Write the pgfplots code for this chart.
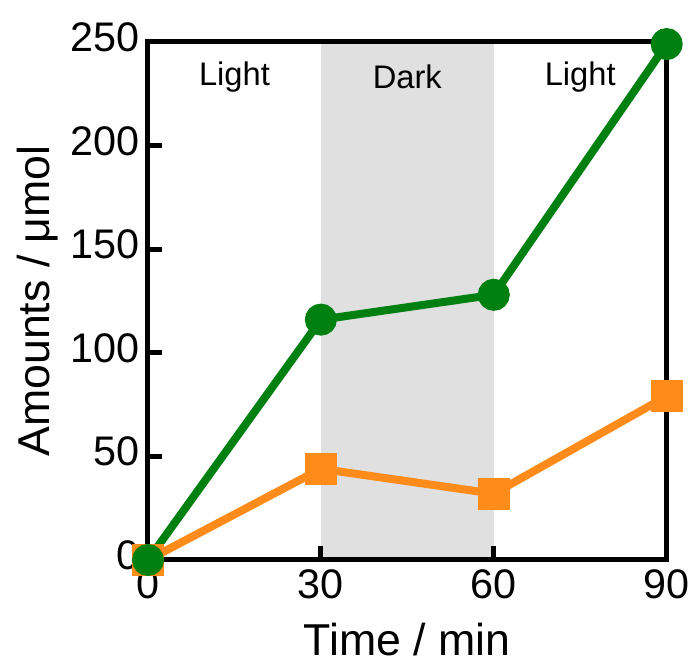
\documentclass[border=0pt]{standalone}
\usepackage{fontspec}
\setmainfont{Liberation Sans}
\usepackage{pgfplots}
\pgfplotsset{compat=1.18}
\definecolor{cgreen}{HTML}{008011}
\definecolor{corange}{HTML}{FF8C1A}
\definecolor{cgray}{HTML}{E0E0E0}
\begin{document}
\begin{tikzpicture}
\begin{axis}[
  width=389pt, height=388.5pt, scale only axis,
  xmin=0, xmax=90, ymin=0, ymax=250,
  xtick={0,30,60,90}, ytick={0,50,100,150,200,250},
  tick align=inside, xtick pos=bottom, ytick pos=left,
  major tick length=10.5pt,
  every tick/.style={line width=3.75pt, black},
  axis line style={line width=3.75pt},
  /pgf/number format/assume math mode=true,
  tick label style={font=\fontsize{31}{31}\selectfont},
  label style={font=\fontsize{33.5}{33.5}\selectfont},
  xlabel={Time / min}, ylabel={Amounts / μmol},
  xlabel style={yshift=-11pt},
  ylabel style={yshift=2pt},
  yticklabel style={xshift=-3pt, yshift=3.5pt},
  xticklabel style={yshift=-4pt},
  clip=false, axis on top,
]
\addplot[fill=cgray, draw=none] coordinates {(30,0) (30,250) (60,250) (60,0)} -- cycle;
\node[font=\fontsize{24.5}{24.5}\selectfont] at (axis cs:15,233) {Light};
\node[font=\fontsize{24.5}{24.5}\selectfont] at (axis cs:45,233) {Dark};
\node[font=\fontsize{24.5}{24.5}\selectfont] at (axis cs:75,233) {Light};
\addplot[corange, line width=6pt, mark=square*, mark size=9pt, mark options={solid}] coordinates {(0,0) (30,44) (60,32) (90,79)};
\addplot[cgreen, line width=6pt, mark=*, mark size=9pt] coordinates {(0,0) (30,116) (60,128) (90,249)};
\end{axis}
\pgfresetboundingbox
\path (-111pt,-77.25pt) rectangle (411.75pt,420pt);
\end{tikzpicture}
\end{document}
